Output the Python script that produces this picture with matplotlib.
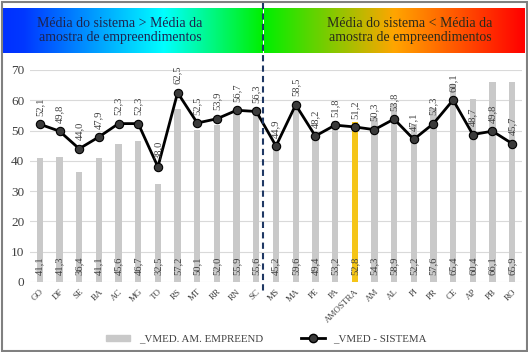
import numpy as np
import matplotlib
matplotlib.use('Agg')
import matplotlib.pyplot as plt
from matplotlib.colors import LinearSegmentedColormap
from matplotlib.lines import Line2D
from matplotlib.patches import Patch, Rectangle

plt.rcParams['font.family'] = ['Liberation Serif', 'DejaVu Serif']

ufs = ['GO', 'DF', 'SE', 'BA', 'AC', 'MG', 'TO', 'RS', 'MT', 'RR', 'RN', 'SC',
       'MS', 'MA', 'PE', 'PA', 'AMOSTRA', 'AM', 'AL', 'PI', 'PR', 'CE', 'AP', 'PB', 'RO']
vmed_amostra = [41.1, 41.3, 36.4, 41.1, 45.6, 46.7, 32.5, 57.2, 50.1, 52.0, 55.9, 55.6,
                45.2, 59.6, 49.4, 53.2, 52.8, 54.3, 58.9, 52.2, 57.6, 65.4, 60.4, 66.1, 65.9]
vmed_sistema = [52.1, 49.8, 44.0, 47.9, 52.3, 52.3, 38.0, 62.5, 52.5, 53.9, 56.7, 56.3,
                44.9, 58.5, 48.2, 51.8, 51.2, 50.3, 53.8, 47.1, 52.3, 60.1, 48.7, 49.8, 45.7]
yticks = [0, 10, 20, 30, 40, 50, 60, 70]

def fmt(v):
    return ('%.1f' % v).replace('.', ',')

fig = plt.figure(figsize=(5.28, 3.52), dpi=100)
W, H = 528.0, 352.0

ax = fig.add_axes([30 / W, 1 - 282 / H, 492 / W, 212 / H])
x = np.arange(len(ufs))
colors = ['#f5c518' if u == 'AMOSTRA' else '#c9c9c9' for u in ufs]
ax.bar(x, vmed_amostra, width=0.32, color=colors, zorder=2)
ax.plot(x, vmed_sistema, color='black', lw=2, marker='o', ms=6,
        mfc='#3a3a3a', mec='black', mew=0.8, zorder=3)

for i in range(len(ufs)):
    ax.text(x[i], 2.3, fmt(vmed_amostra[i]), rotation=90, ha='center', va='bottom',
            fontsize=7.6, color='#404040', zorder=4)
    ax.annotate(fmt(vmed_sistema[i]), (x[i], vmed_sistema[i]), xytext=(0, 6),
                textcoords='offset points', rotation=90, ha='center', va='bottom',
                fontsize=7.6, color='#404040', annotation_clip=False)

ax.set_xlim(-0.5, len(ufs) - 0.5)
ax.set_ylim(0, 70)
ax.set_yticks(yticks)
ax.set_yticklabels([str(t) for t in yticks], fontsize=9.5, color='#404040')
ax.set_xticks(x)
ax.set_xticklabels(ufs, rotation=45, ha='right', rotation_mode='anchor',
                   fontsize=6.5, color='#404040')
ax.tick_params(length=0, pad=4)
ax.grid(axis='y', color='#d9d9d9', lw=0.8, zorder=0)
for s in ax.spines.values():
    s.set_visible(False)

# gradient banners
cmap_l = LinearSegmentedColormap.from_list('l', [(0, '#0030ff'), (0.08, '#0038ff'),
                                                 (0.62, '#00ffff'), (1, '#00f000')])
cmap_r = LinearSegmentedColormap.from_list('r', [(0, '#00f000'), (0.5, '#ffa500'),
                                                 (1, '#ff0000')])
grad = np.linspace(0, 1, 256).reshape(1, -1)
b1 = fig.add_axes([3 / W, 1 - 53 / H, 260 / W, 45 / H])
b1.imshow(grad, aspect='auto', cmap=cmap_l, extent=[0, 1, 0, 1])
b1.axis('off')
b1.text(0.45, 0.5, 'Média do sistema > Média da\namostra de empreendimentos',
        ha='center', va='center', fontsize=10, color='#1c2450', linespacing=1.1)
b2 = fig.add_axes([264 / W, 1 - 53 / H, 261 / W, 45 / H])
b2.imshow(grad, aspect='auto', cmap=cmap_r, extent=[0, 1, 0, 1])
b2.axis('off')
b2.text(0.56, 0.5, 'Média do sistema < Média da\namostra de empreendimentos',
        ha='center', va='center', fontsize=10, color='#2a2a1a', linespacing=1.1)

# dashed divider
fig.add_artist(Line2D([263 / W, 263 / W], [1 - 3 / H, 1 - 292 / H], color='#1f3864',
                      lw=1.5, ls=(0, (3, 2)), transform=fig.transFigure))

# border
fig.add_artist(Rectangle((1.5 / W, 1.5 / H), 1 - 3 / W, 1 - 3 / H, fill=False,
                         ec='#808080', lw=1.5, transform=fig.transFigure))

handles = [Patch(color='#c9c9c9'),
           Line2D([], [], color='black', lw=2, marker='o', ms=6, mfc='#3a3a3a', mec='black')]
labels = ['_VMED. AM. EMPREEND', '_VMED - SISTEMA']
fig.legend(handles, labels, loc='center', bbox_to_anchor=(0.505, 1 - 339 / H), ncol=2,
           frameon=False, fontsize=7.8, columnspacing=3.5, handlelength=2.2,
           handleheight=0.5, labelcolor='#404040')

fig.savefig('out.png', dpi=100)
